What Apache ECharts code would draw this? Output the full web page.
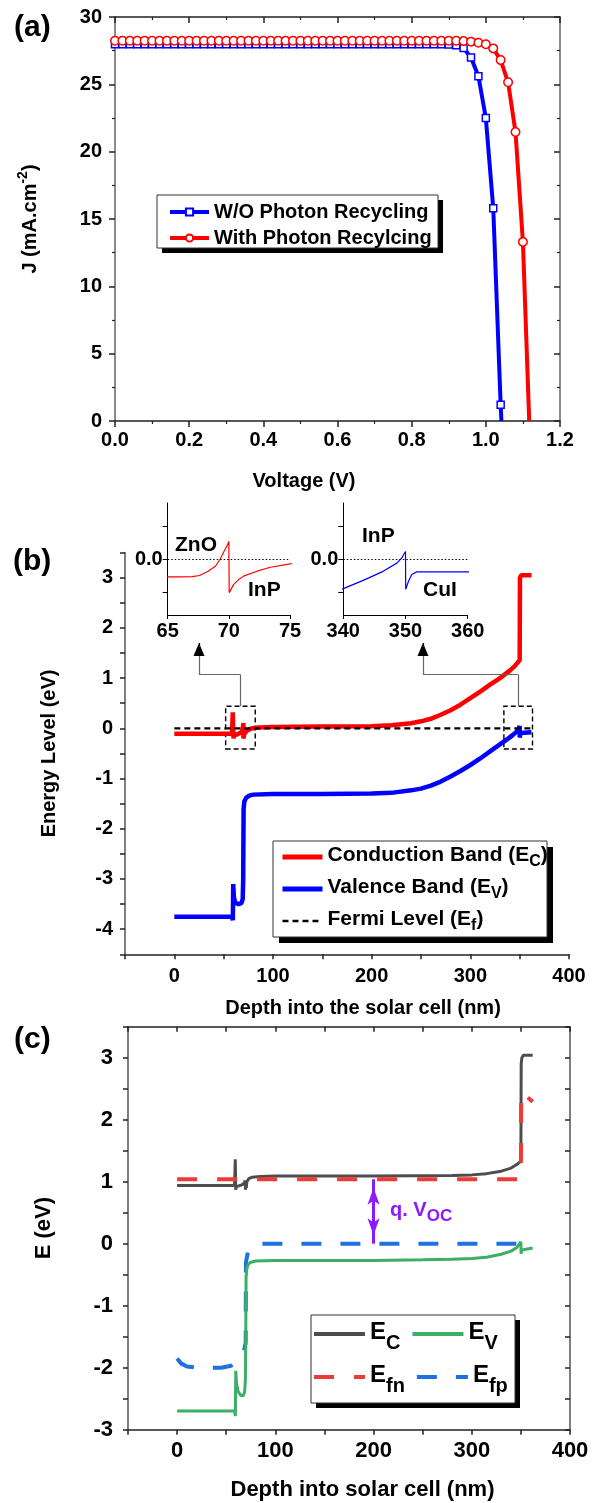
<!DOCTYPE html>
<html>
<head>
<meta charset="utf-8">
<title>J-V curves and band diagrams</title>
<script src="https://cdn.jsdelivr.net/npm/echarts@6.0.0/dist/echarts.min.js"></script>
<style>
  html, body { margin: 0; padding: 0; background: #fff; }
  #chart { width: 596px; height: 1503px; }
</style>
</head>
<body>
<div id="chart"></div>
<script>
(function () {
  var FONT = '"Liberation Sans", Arial, Helvetica, sans-serif';

  // --- (a) J-V curves ---
  var voltage = [0.00, 0.02, 0.04, 0.06, 0.08, 0.10, 0.12, 0.14, 0.16, 0.18, 0.20, 0.22, 0.24, 0.26,
    0.28, 0.30, 0.32, 0.34, 0.36, 0.38, 0.40, 0.42, 0.44, 0.46, 0.48, 0.50, 0.52, 0.54, 0.56, 0.58,
    0.60, 0.62, 0.64, 0.66, 0.68, 0.70, 0.72, 0.74, 0.76, 0.78, 0.80, 0.82, 0.84, 0.86, 0.88, 0.90,
    0.92, 0.94, 0.96, 0.98, 1.00, 1.02, 1.04, 1.06, 1.08, 1.10];
  var jNoRecycling = [27.98, 27.98, 27.98, 27.98, 27.98, 27.98, 27.98, 27.98, 27.98, 27.98, 27.98, 27.98, 27.98, 27.98, 27.98,
    27.98, 27.98, 27.98, 27.98, 27.98, 27.98, 27.98, 27.98, 27.98, 27.98, 27.98, 27.98, 27.98, 27.98, 27.98,
    27.98, 27.98, 27.98, 27.98, 27.98, 27.98, 27.98, 27.98, 27.98, 27.98, 27.98, 27.98, 27.98, 27.98, 27.98,
    27.95, 27.9, 27.7, 27.0, 25.6, 22.5, 15.8, 1.2];
  var jRecycling = [28.24, 28.24, 28.24, 28.24, 28.24, 28.24, 28.24, 28.24, 28.24, 28.24, 28.24, 28.24, 28.24, 28.24, 28.24,
    28.24, 28.24, 28.24, 28.24, 28.24, 28.24, 28.24, 28.24, 28.24, 28.24, 28.24, 28.24, 28.24, 28.24, 28.24,
    28.24, 28.24, 28.24, 28.24, 28.24, 28.24, 28.24, 28.24, 28.24, 28.24, 28.24, 28.24, 28.24, 28.24, 28.24,
    28.24, 28.23, 28.21, 28.17, 28.09, 27.97, 27.67, 26.8, 25.15, 21.46, 13.3];
  var vocNoRecycling = 1.042;
  var vocRecycling = 1.117;

  // --- (b) band diagram, [depth nm, energy eV] ---
  var ecDark = [[0, -0.11], [30, -0.11], [58.5, -0.11], [59.2, 0.32], [59.6, -0.05], [60, -0.2], [60.6, -0.14],
    [62, -0.12], [65, -0.108], [66, -0.108], [67, -0.107], [67.6, -0.1], [68.3, -0.074], [68.9, -0.044],
    [69.3, 0.0], [69.6, 0.046], [69.85, 0.08], [70, 0.107], [70.03, -0.204], [70.4, -0.154], [70.8, -0.125],
    [71.2, -0.104], [72.3, -0.074], [73.4, -0.05], [75, -0.03], [78, -0.005], [85, 0.015], [100, 0.025],
    [150, 0.035], [200, 0.04], [220, 0.06], [240, 0.1], [250, 0.14], [260, 0.19], [270, 0.27], [280, 0.36],
    [290, 0.47], [300, 0.6], [310, 0.73], [320, 0.87], [330, 1.0], [340, 1.15], [345, 1.24], [350, 1.36],
    [350.3, 3.0], [351.5, 3.05], [362, 3.05]];
  var evDark = [[0, -3.75], [58.5, -3.75], [59.3, -3.82], [59.7, -3.1], [60.3, -3.35], [61.5, -3.47], [65, -3.5],
    [68, -3.48], [69.3, -3.4], [69.8, -3.0], [70.2, -1.6], [71, -1.45], [73, -1.38], [76, -1.34], [80, -1.32],
    [100, -1.31], [150, -1.31], [200, -1.3], [220, -1.285], [240, -1.235], [250, -1.2], [260, -1.14],
    [270, -1.06], [280, -0.96], [290, -0.85], [300, -0.73], [310, -0.6], [320, -0.46], [330, -0.32],
    [340, -0.18], [343.2, -0.13], [346.4, -0.075], [348.6, -0.025], [349.4, 0.006], [350, 0.046],
    [350.03, -0.184], [350.5, -0.134], [351, -0.094], [351.8, -0.078], [362, -0.078]];
  var efDark = [[0, 0], [363, 0]];
  var zoomBoxDepth = [[52, 82], [334, 363]];
  var zoomBoxEnergy = [-0.41, 0.44];
  var insetArrowDepth = [25, 252];
  var connectorElbow = 1.07;
  var arrowBaseEnergy = 1.44;
  var arrowTipEnergy = 1.70;
  var insetLabels = ['ZnO', 'InP', 'InP', 'CuI'];

  // --- (c) band diagram at open circuit ---
  var ecLight = [[0, 0.94], [58.5, 0.94], [59.2, 1.36], [59.7, 0.87], [60.3, 0.92], [62, 0.94], [66, 0.95],
    [68.5, 0.98], [69.3, 1.02], [69.6, 0.87], [70, 1.0], [70.4, 0.9], [71, 1.0], [73, 1.05], [76, 1.07],
    [85, 1.085], [100, 1.09], [200, 1.09], [280, 1.1], [300, 1.11], [315, 1.13], [330, 1.17], [340, 1.22],
    [347, 1.29], [350, 1.33], [350.3, 2.9], [351, 3.0], [352.5, 3.04], [362, 3.04]];
  var evLight = [[0, -2.7], [58.5, -2.7], [59.3, -2.78], [59.7, -2.05], [60.5, -2.25], [62, -2.38], [65, -2.45],
    [67.5, -2.45], [68.8, -2.38], [69.5, -2.2], [69.9, -1.5], [70.2, -0.55], [71, -0.4], [72.5, -0.33],
    [75, -0.3], [80, -0.28], [100, -0.27], [200, -0.27], [250, -0.26], [280, -0.25], [300, -0.24],
    [315, -0.22], [330, -0.17], [340, -0.12], [346, -0.06], [350, 0.03], [350.2, -0.16], [351, -0.1],
    [352.5, -0.07], [362, -0.07]];
  var efnLight = [[0, 1.04], [350, 1.04], [350.3, 2.45], [352, 2.43], [362, 2.29]];
  var efpLight = [[0, -1.85], [4, -1.93], [10, -1.98], [20, -2.0], [45, -2.0], [55, -1.97], [60, -1.9],
    [65, -1.8], [67.6, -1.76], [69.8, -1.6], [70.1, -0.3], [72, -0.14], [76, -0.04], [80, 0], [362, 0]];
  var vocArrowDepth = 200;
  var vocArrowEnergy = [0, 1.04];

  var purple = '#8c1aff';

  function merge(a, b) {
    var out = {}, k;
    for (k in a) out[k] = a[k];
    for (k in b) {
      if (b[k] && a[k] && typeof b[k] === 'object' && typeof a[k] === 'object' &&
          !Array.isArray(b[k]) && !Array.isArray(a[k])) out[k] = merge(a[k], b[k]);
      else out[k] = b[k];
    }
    return out;
  }

  function axis(o) {
    return merge({
      type: 'value',
      splitLine: { show: false },
      axisLine: { show: true, onZero: false, lineStyle: { color: '#222', width: 1.5 } },
      axisTick: { show: true, length: 6, lineStyle: { color: '#222', width: 1.5 } },
      axisLabel: { color: '#000', fontFamily: FONT, fontWeight: 'bold', fontSize: 20 },
      nameTextStyle: { color: '#000', fontFamily: FONT, fontWeight: 'bold', fontSize: 20 }
    }, o);
  }
  // opposite side of a framed plot: no labels, ticks pointing in
  function mirror(o) {
    return axis(merge({ axisLabel: { show: false }, axisTick: { inside: true } }, o));
  }
  function whole(step) {
    return function (v) {
      var r = Math.round(v / step) * step;
      return Math.abs(v - r) < 1e-6 ? String(Math.round(r)) : '';
    };
  }
  // white framed legend box with a solid offset shadow
  function legendBox(x, y, w, h, off) {
    return [
      { type: 'rect', z: 3, silent: true, shape: { x: x + off, y: y + off, width: w, height: h }, style: { fill: '#000' } },
      { type: 'rect', z: 3, silent: true, shape: { x: x, y: y, width: w, height: h }, style: { fill: '#fff', stroke: '#333', lineWidth: 1 } }
    ];
  }

  var noPR = jNoRecycling.map(function (j, i) { return [voltage[i], j]; });
  noPR.push({ value: [vocNoRecycling, 0], symbol: 'none' });
  var withPR = jRecycling.map(function (j, i) { return [voltage[i], j]; });
  withPR.push({ value: [vocRecycling, 0], symbol: 'none' });

  var boxes = zoomBoxDepth.map(function (b) {
    return [{ coord: [b[0], zoomBoxEnergy[0]] }, { coord: [b[1], zoomBoxEnergy[1]] }];
  });
  var connectors = [];
  zoomBoxDepth.forEach(function (b, i) {
    var cx = (b[0] + b[1]) / 2, ax = insetArrowDepth[i];
    connectors.push([{ coord: [cx, zoomBoxEnergy[1]] }, { coord: [cx, connectorElbow] }]);
    connectors.push([{ coord: [cx, connectorElbow] }, { coord: [ax, connectorElbow] }]);
    connectors.push([{ coord: [ax, connectorElbow] }, { coord: [ax, arrowBaseEnergy] }]);
    connectors.push([
      { coord: [ax, arrowBaseEnergy], lineStyle: { color: '#000' } },
      { coord: [ax, arrowTipEnergy], lineStyle: { color: '#000' }, symbol: 'triangle', symbolSize: [11, 13], symbolOffset: [0, '50%'] }
    ]);
  });

  var chart = echarts.init(document.getElementById('chart'), null, { renderer: 'canvas' });
  chart.setOption({
    animation: false,
    backgroundColor: '#fff',
    textStyle: { fontFamily: FONT },
    grid: [
      { left: 115, top: 17, width: 445, height: 404 },
      { left: 125, top: 552.6, width: 444, height: 401.7 },
      { left: 128, top: 1026.7, width: 442, height: 403 },
      { left: 167.7, top: 503, width: 122.3, height: 112 },
      { left: 343.3, top: 503, width: 124.4, height: 112 }
    ],
    xAxis: [
      axis({ gridIndex: 0, min: 0, max: 1.2, interval: 0.2,
        minorTick: { show: true, splitNumber: 2, length: 3, lineStyle: { color: '#222', width: 1.2 } },
        axisLabel: { margin: 9, formatter: function (v) { return v.toFixed(1); } },
        name: 'Voltage (V)', nameLocation: 'middle', nameGap: 50,
        nameTextStyle: { padding: [0, 67, 0, 0] } }),
      mirror({ gridIndex: 0, position: 'top', min: 0, max: 1.2, interval: 0.2,
        minorTick: { show: true, splitNumber: 2, length: 3, lineStyle: { color: '#222', width: 1.2 } } }),
      axis({ gridIndex: 1, min: -50, max: 400, interval: 50, axisTick: { length: 5 },
        axisLabel: { margin: 12, formatter: whole(100) },
        name: 'Depth into the solar cell (nm)', nameLocation: 'middle', nameGap: 44,
        nameTextStyle: { padding: [0, 0, 0, 32] } }),
      axis({ gridIndex: 2, min: -50, max: 400, interval: 50, axisTick: { length: 5 },
        axisLabel: { margin: 10, fontSize: 22, formatter: whole(100) },
        name: 'Depth into solar cell (nm)', nameLocation: 'middle', nameGap: 49,
        nameTextStyle: { fontSize: 22, padding: [0, 0, 0, 27] } }),
      mirror({ gridIndex: 2, position: 'top', min: -50, max: 400, interval: 50, axisTick: { length: 5 } }),
      axis({ gridIndex: 3, min: 65, max: 75, interval: 5,
        axisLine: { lineStyle: { color: '#000', width: 1 } },
        axisTick: { length: 4, lineStyle: { color: '#000', width: 1 } },
        axisLabel: { margin: 6 } }),
      axis({ gridIndex: 4, min: 340, max: 360, interval: 10,
        axisLine: { lineStyle: { color: '#000', width: 1 } },
        axisTick: { length: 4, lineStyle: { color: '#000', width: 1 } },
        axisLabel: { margin: 6 } })
    ],
    yAxis: [
      axis({ gridIndex: 0, min: 0, max: 30, interval: 5,
        axisLine: { lineStyle: { color: '#666' } },
        minorTick: { show: true, splitNumber: 2, length: 3, lineStyle: { color: '#222', width: 1.2 } },
        axisLabel: { margin: 13 },
        name: '{m|J (mA.cm}{sup|-2}{m|)}', nameLocation: 'middle', nameGap: 75, nameRotate: 90,
        nameTextStyle: { rich: {
          m: { fontSize: 20, fontWeight: 'bold', fontFamily: FONT, color: '#000', lineHeight: 24, verticalAlign: 'bottom' },
          sup: { fontSize: 14, fontWeight: 'bold', fontFamily: FONT, color: '#000', lineHeight: 14, verticalAlign: 'top' }
        } } }),
      mirror({ gridIndex: 0, position: 'right', min: 0, max: 30, interval: 5,
        axisLine: { lineStyle: { color: '#666' } },
        minorTick: { show: true, splitNumber: 2, length: 3, lineStyle: { color: '#222', width: 1.2 } } }),
      axis({ gridIndex: 1, min: -4.5, max: 3.5, interval: 0.5, axisTick: { length: 5 },
        axisLine: { lineStyle: { color: '#555' } },
        axisLabel: { margin: 12, formatter: whole(1) },
        name: 'Energy Level (eV)', nameLocation: 'middle', nameGap: 66, nameRotate: 90 }),
      axis({ gridIndex: 2, min: -3, max: 3.5, interval: 0.5, axisTick: { length: 5 },
        axisLine: { lineStyle: { color: '#555' } },
        axisLabel: { margin: 15, fontSize: 22, formatter: whole(1) },
        name: 'E (eV)', nameLocation: 'middle', nameGap: 73, nameRotate: 90,
        nameTextStyle: { fontSize: 22 } }),
      mirror({ gridIndex: 2, position: 'right', min: -3, max: 3.5, interval: 0.5, axisTick: { length: 5 },
        axisLine: { lineStyle: { color: '#555' } } }),
      axis({ gridIndex: 3, min: -0.34, max: 0.34,
        axisLine: { lineStyle: { color: '#000', width: 1 } },
        axisTick: { length: 5, customValues: [-0.2, 0, 0.2], lineStyle: { color: '#000', width: 1 } },
        axisLabel: { margin: 5, customValues: [0], formatter: function (v) { return Math.abs(v) < 1e-9 ? '0.0' : ''; } } }),
      axis({ gridIndex: 4, min: -0.34, max: 0.34,
        axisLine: { lineStyle: { color: '#000', width: 1 } },
        axisTick: { length: 5, customValues: [-0.2, 0, 0.2], lineStyle: { color: '#000', width: 1 } },
        axisLabel: { margin: 5, customValues: [0], formatter: function (v) { return Math.abs(v) < 1e-9 ? '0.0' : ''; } } })
    ],
    legend: [
      {
        data: ['W/O Photon Recycling', 'With Photon Recylcing'], selectedMode: false, z: 6,
        orient: 'vertical', left: 168, top: 201, padding: 0,
        itemWidth: 39, itemHeight: 9, itemGap: 4,
        lineStyle: { width: 4 },
        textStyle: { fontSize: 20, fontWeight: 'bold', color: '#000', fontFamily: FONT, lineHeight: 22 }
      },
      {
        data: [{ name: 'Conduction Band' }, { name: 'Valence Band' }, { name: 'Fermi Level', lineStyle: { width: 2.5 } }],
        selectedMode: false, z: 6,
        orient: 'vertical', left: 280, top: 845, padding: 0,
        itemWidth: 40, itemHeight: 10, itemGap: 7,
        lineStyle: { width: 5 },
        itemStyle: { color: 'rgba(0,0,0,0)', borderWidth: 0 },
        formatter: function (name) {
          var sub = { 'Conduction Band': 'C', 'Valence Band': 'V', 'Fermi Level': 'f' }[name];
          return '{m|' + name + ' (E}{s|' + sub + '}{m|)}';
        },
        textStyle: { color: '#000', rich: {
          m: { fontSize: 21, fontWeight: 'bold', fontFamily: FONT, color: '#000', lineHeight: 24, verticalAlign: 'top' },
          s: { fontSize: 16, fontWeight: 'bold', fontFamily: FONT, color: '#000', lineHeight: 16, verticalAlign: 'top', padding: [9, 0, 0, 0] }
        } }
      },
      {
        data: ['Ec', 'Ev', 'Efn', 'Efp'], selectedMode: false, z: 6,
        orient: 'horizontal', left: 312, top: 1320, width: 200, padding: 0,
        itemWidth: 51, itemHeight: 10, itemGap: 10,
        lineStyle: { width: 4 },
        itemStyle: { color: 'rgba(0,0,0,0)', borderWidth: 0 },
        formatter: function (name) {
          var sub = { Ec: 'C', Ev: 'V', Efn: 'fn', Efp: 'fp' }[name];
          return '{m|E}{s|' + sub + '}';
        },
        textStyle: { color: '#000', rich: {
          m: { fontSize: 24, fontWeight: 'bold', fontFamily: FONT, color: '#000', lineHeight: 28, verticalAlign: 'top' },
          s: { fontSize: 20, fontWeight: 'bold', fontFamily: FONT, color: '#000', lineHeight: 20, verticalAlign: 'top', padding: [13, 0, 0, 0] }
        } }
      }
    ],
    series: [
      { name: 'W/O Photon Recycling', type: 'line', xAxisIndex: 0, yAxisIndex: 0, data: noPR,
        symbol: 'rect', symbolSize: 7, showAllSymbol: true,
        lineStyle: { color: '#0000ff', width: 4 },
        itemStyle: { color: '#fff', borderColor: '#0000ff', borderWidth: 1.5 } },
      { name: 'With Photon Recylcing', type: 'line', xAxisIndex: 0, yAxisIndex: 0, data: withPR,
        symbol: 'circle', symbolSize: 8.5, showAllSymbol: true,
        lineStyle: { color: '#ff0000', width: 4 },
        itemStyle: { color: '#fff', borderColor: '#ff0000', borderWidth: 1.5 } },

      { name: 'Conduction Band', type: 'line', xAxisIndex: 2, yAxisIndex: 2, data: ecDark, symbol: 'none',
        lineStyle: { color: '#ff0000', width: 4.5 }, itemStyle: { color: '#ff0000' } },
      { name: 'Valence Band', type: 'line', xAxisIndex: 2, yAxisIndex: 2, data: evDark, symbol: 'none',
        lineStyle: { color: '#0000ff', width: 4.5 }, itemStyle: { color: '#0000ff' } },
      { name: 'Fermi Level', type: 'line', xAxisIndex: 2, yAxisIndex: 2, data: efDark, symbol: 'none',
        lineStyle: { color: '#000', width: 2.2, type: [6, 4] }, itemStyle: { color: '#000' },
        markArea: { silent: true, label: { show: false },
          itemStyle: { color: 'rgba(0,0,0,0)', borderColor: '#000', borderWidth: 1.4, borderType: [5, 3] },
          data: boxes },
        markLine: { silent: true, symbol: ['none', 'none'], label: { show: false },
          lineStyle: { color: '#666', width: 1.2, type: 'solid' },
          emphasis: { disabled: true }, data: connectors } },

      { name: 'ZnO/InP', type: 'line', xAxisIndex: 5, yAxisIndex: 5, data: ecDark, symbol: 'none',
        lineStyle: { color: '#ff0000', width: 1.2 },
        markLine: { silent: true, symbol: ['none', 'none'], label: { show: false },
          lineStyle: { color: '#000', width: 1, type: [1.5, 2] }, data: [{ yAxis: 0 }] } },
      { name: 'InP/CuI', type: 'line', xAxisIndex: 6, yAxisIndex: 6, data: evDark, symbol: 'none',
        lineStyle: { color: '#0000ff', width: 1.2 },
        markLine: { silent: true, symbol: ['none', 'none'], label: { show: false },
          lineStyle: { color: '#000', width: 1, type: [1.5, 2] }, data: [{ yAxis: 0 }] } },

      { name: 'Ec', type: 'line', xAxisIndex: 3, yAxisIndex: 3, data: ecLight, symbol: 'none',
        lineStyle: { color: '#4d4d4d', width: 3 }, itemStyle: { color: '#4d4d4d' } },
      { name: 'Efn', type: 'line', xAxisIndex: 3, yAxisIndex: 3, data: efnLight, symbol: 'none',
        lineStyle: { color: '#ec3b3b', width: 4, type: [20, 20] }, itemStyle: { color: '#ec3b3b' } },
      { name: 'Efp', type: 'line', xAxisIndex: 3, yAxisIndex: 3, data: efpLight, symbol: 'none',
        lineStyle: { color: '#1f70e0', width: 4, type: [20, 19] }, itemStyle: { color: '#1f70e0' },
        markLine: { silent: true, label: { show: false }, emphasis: { disabled: true },
          lineStyle: { color: purple, width: 3, type: 'solid' },
          data: [[
            { coord: [vocArrowDepth, vocArrowEnergy[0]], symbol: 'arrow', symbolSize: [9, 17], symbolOffset: [0, '50%'] },
            { coord: [vocArrowDepth, vocArrowEnergy[1]], symbol: 'arrow', symbolSize: [9, 17], symbolOffset: [0, '50%'] }
          ]] } },
      { name: 'Ev', type: 'line', xAxisIndex: 3, yAxisIndex: 3, data: evLight, symbol: 'none',
        lineStyle: { color: '#3cae66', width: 3 }, itemStyle: { color: '#3cae66' } }
    ],
    graphic: [].concat(
      legendBox(157, 195, 281, 53, 5),
      legendBox(273, 841, 274, 96, 6),
      legendBox(311, 1315, 204, 88, 5),
      [
        { type: 'text', x: 14, y: 28, style: { text: '(a)', font: 'bold 30px ' + FONT, fill: '#000', verticalAlign: 'middle' } },
        { type: 'text', x: 13, y: 562, style: { text: '(b)', font: 'bold 30px ' + FONT, fill: '#000', verticalAlign: 'middle' } },
        { type: 'text', x: 14, y: 1040, style: { text: '(c)', font: 'bold 30px ' + FONT, fill: '#000', verticalAlign: 'middle' } },
        { type: 'text', x: 175, y: 545, z: 10, style: { text: insetLabels[0], font: 'bold 21px ' + FONT, fill: '#000', verticalAlign: 'middle' } },
        { type: 'text', x: 248, y: 590, z: 10, style: { text: insetLabels[1], font: 'bold 21px ' + FONT, fill: '#000', verticalAlign: 'middle' } },
        { type: 'text', x: 362, y: 536, z: 10, style: { text: insetLabels[2], font: 'bold 21px ' + FONT, fill: '#000', verticalAlign: 'middle' } },
        { type: 'text', x: 423, y: 590, z: 10, style: { text: insetLabels[3], font: 'bold 21px ' + FONT, fill: '#000', verticalAlign: 'middle' } },
        { type: 'text', x: 390, y: 1211, z: 10, style: {
          text: '{m|q. V}{s|OC}', verticalAlign: 'middle',
          rich: {
            m: { fontSize: 20, fontWeight: 'bold', fontFamily: FONT, fill: purple, lineHeight: 22, verticalAlign: 'top' },
            s: { fontSize: 17, fontWeight: 'bold', fontFamily: FONT, fill: purple, lineHeight: 17, verticalAlign: 'top', padding: [8, 0, 0, 0] }
          } } }
      ]
    )
  });
  window.addEventListener('resize', function () { chart.resize(); });
})();
</script>
</body>
</html>
